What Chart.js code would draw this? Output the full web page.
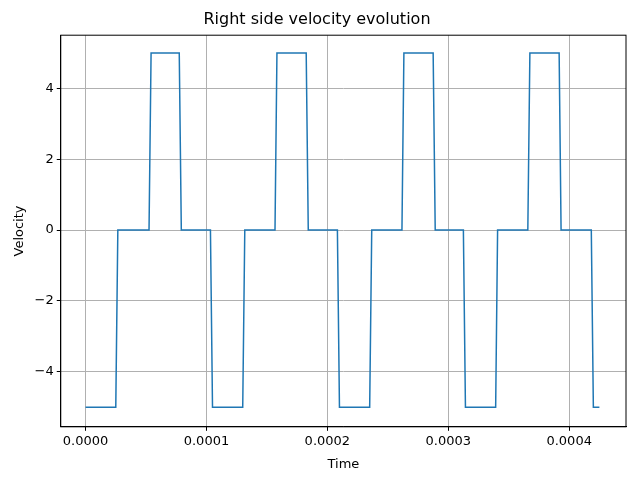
<!DOCTYPE html>
<html>
<head>
<meta charset="utf-8">
<script src="https://cdn.jsdelivr.net/npm/chart.js@4"></script>
<style>body{margin:0;background:#fff}</style>
</head>
<body>
<canvas id="c" width="640" height="480"></canvas>
<script>
// time in seconds, velocity per sample (step signal with short ramps)
const times = [0, 25.0e-6, 26.7e-6, 52.5e-6, 54.2e-6, 77.5e-6, 79.2e-6, 103.3e-6, 105.0e-6,
  130.0e-6, 131.7e-6, 156.7e-6, 158.3e-6, 182.5e-6, 184.2e-6, 208.3e-6, 210.0e-6,
  235.0e-6, 236.7e-6, 261.7e-6, 263.3e-6, 287.5e-6, 289.2e-6, 312.5e-6, 314.2e-6,
  339.2e-6, 340.8e-6, 365.8e-6, 367.5e-6, 391.7e-6, 393.3e-6, 418.3e-6, 420.0e-6, 425.0e-6];
const velocity = [-5, -5, 0, 0, 5, 5, 0, 0, -5,
  -5, 0, 0, 5, 5, 0, 0, -5,
  -5, 0, 0, 5, 5, 0, 0, -5,
  -5, 0, 0, 5, 5, 0, 0, -5, -5];
const xTicks = [0, 0.0001, 0.0002, 0.0003, 0.0004];
const yTicks = [-4, -2, 0, 2, 4];

const font = {family: "DejaVu Sans", size: 13};
new Chart(document.getElementById("c"), {
  type: "line",
  data: {
    datasets: [{
      data: times.map((t, i) => ({x: t, y: velocity[i]})),
      borderColor: "#1f77b4",
      borderWidth: 1.5,
      pointRadius: 0,
      tension: 0,
      fill: false
    }]
  },
  options: {
    responsive: false,
    animation: false,
    layout: {padding: {left: 8, right: 14, top: 0, bottom: 4}},
    plugins: {
      legend: {display: false},
      tooltip: {enabled: false},
      title: {display: true, text: "Right side velocity evolution", color: "#000",
        font: {family: "DejaVu Sans", size: 16, weight: "normal"}, padding: {top: 10, bottom: 6}}
    },
    scales: {
      x: {
        type: "linear", min: -0.0000205, max: 0.000447,
        afterBuildTicks: s => { s.ticks = xTicks.map(v => ({value: v})); },
        ticks: {color: "#000", font, callback: v => v.toFixed(4)},
        grid: {color: "#b0b0b0", tickColor: "#000", tickLength: 4},
        border: {color: "#000"},
        title: {display: true, text: "Time", color: "#000", font: {family: "DejaVu Sans", size: 13}}
      },
      y: {
        min: -5.55, max: 5.5,
        afterBuildTicks: s => { s.ticks = yTicks.map(v => ({value: v})); },
        ticks: {color: "#000", font, callback: v => v < 0 ? "\u2212" + Math.abs(v) : String(v)},
        grid: {color: "#b0b0b0", tickColor: "#000", tickLength: 4},
        border: {color: "#000"},
        title: {display: true, text: "Velocity", color: "#000", font: {family: "DejaVu Sans", size: 13}}
      }
    }
  },
  plugins: [{
    id: "frame",
    afterDraw(c) {
      const a = c.chartArea, g = c.ctx;
      g.save(); g.strokeStyle = "#000"; g.lineWidth = 1;
      g.strokeRect(a.left, a.top, a.right - a.left, a.bottom - a.top);
      g.restore();
    }
  }]
});
</script>
</body>
</html>
